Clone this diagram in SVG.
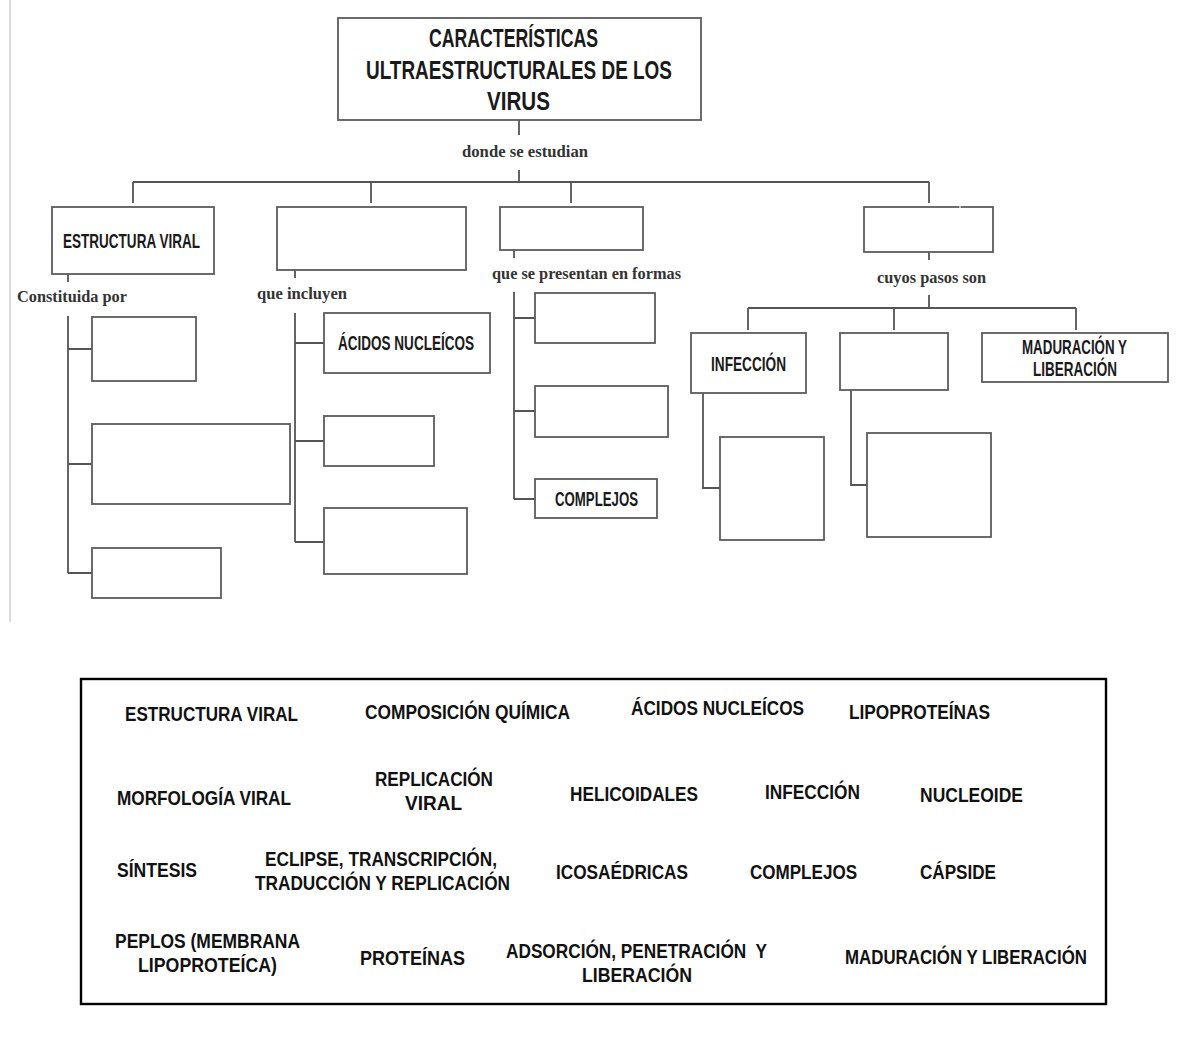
<svg xmlns="http://www.w3.org/2000/svg" width="1184" height="1057" viewBox="0 0 1184 1057">
  <style>
    .bx { fill: #fff; stroke: #5c5c5c; stroke-width: 1.8; }
    .ln { fill: none; stroke: #555; stroke-width: 1.8; }
    .hd { font-family: "Liberation Sans", Arial, sans-serif; font-weight: bold; fill: #1a1a1a; }
    .lk { font-family: "Liberation Serif", "Times New Roman", serif; font-weight: bold; font-size: 16px; fill: #333; }
    .bank { font-family: "Liberation Sans", Arial, sans-serif; font-weight: bold; font-size: 20px; fill: #111; }
  </style>
  <rect width="1184" height="1057" fill="#fff"/>
  <!-- page margin rule -->
  <line x1="10" y1="0" x2="10" y2="622" stroke="#dcdcdc" stroke-width="2"/>

  <g id="connectors">
    <!-- title to first level -->
    <path class="ln" d="M519 120 V135 M519 170 V182 M133 182 H929 M133 182 V203 M371 182 V203 M571 182 V203 M929 182 V203"/>
    <!-- estructura viral branch -->
    <path class="ln" d="M68 274 V282 M68 316 V573 M68 349 H92 M68 464 H92 M68 573 H92"/>
    <!-- composicion branch -->
    <path class="ln" d="M295 270 V278 M295 313 V542 M295 343 H324 M295 441 H324 M295 542 H324"/>
    <!-- morfologia branch -->
    <path class="ln" d="M514 250 V258 M514 292 V499 M514 318 H535 M514 411 H535 M514 499 H535"/>
    <!-- replicacion branch -->
    <path class="ln" d="M929 252 V260 M929 295 V308 M748 308 H1076 M748 308 V330 M894 308 V330 M1076 308 V330"/>
    <path class="ln" d="M703 393 V488 H720 M851 390 V485 H867"/>
  </g>

  <g id="title">
    <rect class="bx" x="338" y="18" width="363" height="102"/>
    <text class="hd" font-size="25" x="429" y="47" textLength="169" lengthAdjust="spacingAndGlyphs">CARACTERÍSTICAS</text>
    <text class="hd" font-size="25" x="366" y="79" textLength="306" lengthAdjust="spacingAndGlyphs">ULTRAESTRUCTURALES DE LOS</text>
    <text class="hd" font-size="25" x="487" y="110" textLength="63" lengthAdjust="spacingAndGlyphs">VIRUS</text>
  </g>
  <g id="lbl-donde"><text class="lk" x="462" y="157" textLength="126" lengthAdjust="spacingAndGlyphs">donde se estudian</text></g>

  <!-- estructura viral -->
  <g id="estructura">
    <rect class="bx" x="52" y="207" width="162" height="67"/>
    <text class="hd" font-size="21" x="63" y="248" textLength="137" lengthAdjust="spacingAndGlyphs">ESTRUCTURA VIRAL</text>
  </g>
  <g id="lbl-constituida"><text class="lk" x="17" y="302" textLength="110" lengthAdjust="spacingAndGlyphs">Constituida por</text></g>
  <g id="ev-1"><rect class="bx" x="92" y="317" width="104" height="64"/></g>
  <g id="ev-2"><rect class="bx" x="92" y="424" width="198" height="80"/></g>
  <g id="ev-3"><rect class="bx" x="92" y="548" width="129" height="50"/></g>

  <!-- composicion -->
  <g id="composicion"><rect class="bx" x="277" y="207" width="189" height="63"/></g>
  <g id="lbl-incluyen"><text class="lk" x="257" y="299" textLength="90" lengthAdjust="spacingAndGlyphs">que incluyen</text></g>
  <g id="acidos">
    <rect class="bx" x="324" y="313" width="166" height="60"/>
    <text class="hd" font-size="21" x="338" y="350" textLength="136" lengthAdjust="spacingAndGlyphs">ÁCIDOS NUCLEÍCOS</text>
  </g>
  <g id="cq-2"><rect class="bx" x="324" y="416" width="110" height="50"/></g>
  <g id="cq-3"><rect class="bx" x="324" y="508" width="143" height="66"/></g>

  <!-- morfologia -->
  <g id="morfologia"><rect class="bx" x="500" y="207" width="143" height="43"/></g>
  <g id="lbl-formas"><text class="lk" x="492" y="279" textLength="189" lengthAdjust="spacingAndGlyphs">que se presentan en formas</text></g>
  <g id="mv-1"><rect class="bx" x="535" y="293" width="120" height="50"/></g>
  <g id="mv-2"><rect class="bx" x="535" y="386" width="133" height="51"/></g>
  <g id="complejos">
    <rect class="bx" x="535" y="479" width="122" height="39"/>
    <text class="hd" font-size="20" x="555" y="506" textLength="83" lengthAdjust="spacingAndGlyphs">COMPLEJOS</text>
  </g>

  <!-- replicacion -->
  <g id="replicacion">
    <rect class="bx" x="864" y="207" width="129" height="45"/>
    <line x1="960" y1="206" x2="960" y2="208.5" stroke="#fff" stroke-width="1.2"/>
  </g>
  <g id="lbl-pasos"><text class="lk" x="877" y="283" textLength="109" lengthAdjust="spacingAndGlyphs">cuyos pasos son</text></g>
  <g id="infeccion">
    <rect class="bx" x="691" y="333" width="115" height="60"/>
    <text class="hd" font-size="20" x="711" y="371" textLength="75" lengthAdjust="spacingAndGlyphs">INFECCIÓN</text>
  </g>
  <g id="sintesis"><rect class="bx" x="840" y="333" width="108" height="57"/></g>
  <g id="maduracion">
    <rect class="bx" x="982" y="333" width="186" height="49"/>
    <text class="hd" font-size="20" x="1022" y="354" textLength="105" lengthAdjust="spacingAndGlyphs">MADURACIÓN Y</text>
    <text class="hd" font-size="20" x="1033" y="376" textLength="84" lengthAdjust="spacingAndGlyphs">LIBERACIÓN</text>
  </g>
  <g id="inf-1"><rect class="bx" x="720" y="437" width="104" height="103"/></g>
  <g id="sin-1"><rect class="bx" x="867" y="433" width="124" height="104"/></g>

  <!-- word bank -->
  <g id="word-bank">
    <rect x="81" y="679" width="1025" height="325" fill="#fff" stroke="#000" stroke-width="2.4"/>
    <text class="bank" x="125" y="721" textLength="173" lengthAdjust="spacingAndGlyphs">ESTRUCTURA VIRAL</text>
    <text class="bank" x="365" y="719" textLength="205" lengthAdjust="spacingAndGlyphs">COMPOSICIÓN QUÍMICA</text>
    <text class="bank" x="631" y="715" textLength="173" lengthAdjust="spacingAndGlyphs">ÁCIDOS NUCLEÍCOS</text>
    <text class="bank" x="849" y="719" textLength="141" lengthAdjust="spacingAndGlyphs">LIPOPROTEÍNAS</text>

    <text class="bank" x="117" y="805" textLength="174" lengthAdjust="spacingAndGlyphs">MORFOLOGÍA VIRAL</text>
    <text class="bank" x="375" y="786" textLength="118" lengthAdjust="spacingAndGlyphs">REPLICACIÓN</text>
    <text class="bank" x="405" y="810" textLength="57" lengthAdjust="spacingAndGlyphs">VIRAL</text>
    <text class="bank" x="570" y="801" textLength="128" lengthAdjust="spacingAndGlyphs">HELICOIDALES</text>
    <text class="bank" x="765" y="799" textLength="95" lengthAdjust="spacingAndGlyphs">INFECCIÓN</text>
    <text class="bank" x="920" y="802" textLength="103" lengthAdjust="spacingAndGlyphs">NUCLEOIDE</text>

    <text class="bank" x="117" y="877" textLength="80" lengthAdjust="spacingAndGlyphs">SÍNTESIS</text>
    <text class="bank" x="265" y="866" textLength="232" lengthAdjust="spacingAndGlyphs">ECLIPSE, TRANSCRIPCIÓN,</text>
    <text class="bank" x="255" y="890" textLength="255" lengthAdjust="spacingAndGlyphs">TRADUCCIÓN Y REPLICACIÓN</text>
    <text class="bank" x="556" y="879" textLength="132" lengthAdjust="spacingAndGlyphs">ICOSAÉDRICAS</text>
    <text class="bank" x="750" y="879" textLength="107" lengthAdjust="spacingAndGlyphs">COMPLEJOS</text>
    <text class="bank" x="920" y="879" textLength="76" lengthAdjust="spacingAndGlyphs">CÁPSIDE</text>

    <text class="bank" x="115" y="948" textLength="185" lengthAdjust="spacingAndGlyphs">PEPLOS (MEMBRANA</text>
    <text class="bank" x="138" y="972" textLength="139" lengthAdjust="spacingAndGlyphs">LIPOPROTEÍCA)</text>
    <text class="bank" x="360" y="965" textLength="105" lengthAdjust="spacingAndGlyphs">PROTEÍNAS</text>
    <text class="bank" x="506" y="958" textLength="261" lengthAdjust="spacingAndGlyphs" xml:space="preserve">ADSORCIÓN, PENETRACIÓN  Y</text>
    <text class="bank" x="582" y="982" textLength="110" lengthAdjust="spacingAndGlyphs">LIBERACIÓN</text>
    <text class="bank" x="845" y="964" textLength="242" lengthAdjust="spacingAndGlyphs">MADURACIÓN Y LIBERACIÓN</text>
  </g>
</svg>
